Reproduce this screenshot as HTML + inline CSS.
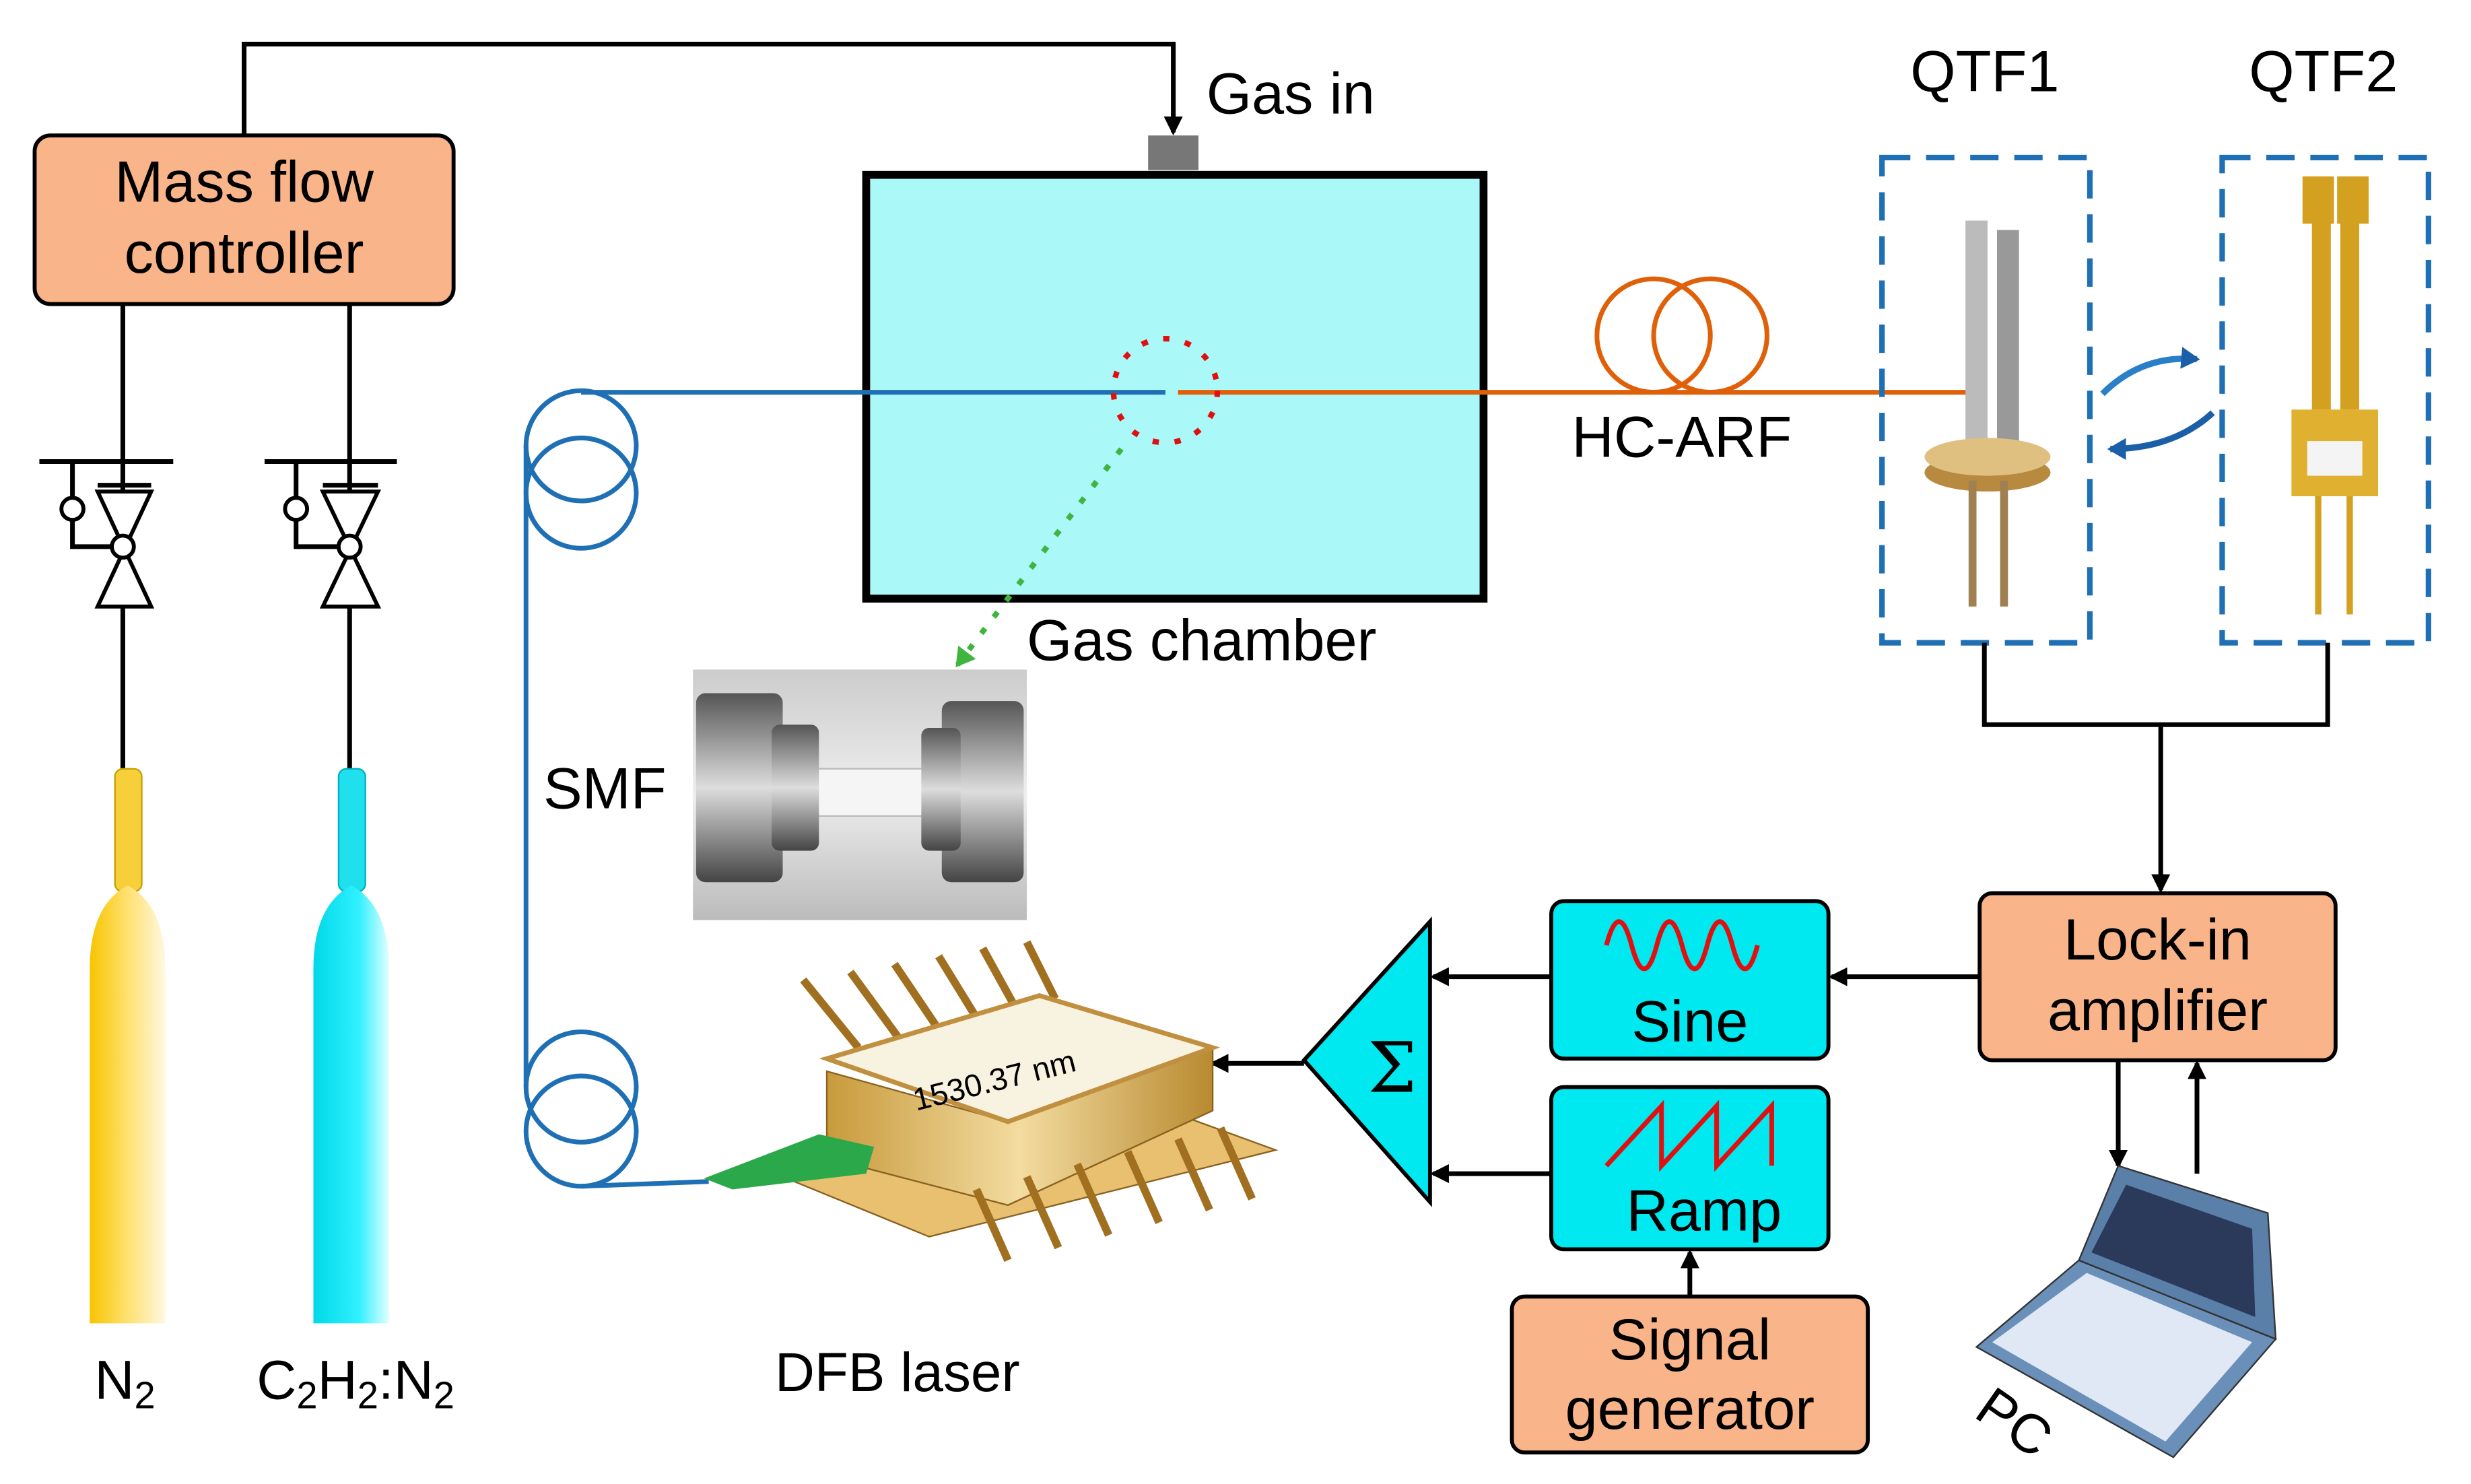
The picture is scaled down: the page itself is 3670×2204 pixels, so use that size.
<!DOCTYPE html>
<html><head><meta charset="utf-8"><style>
html,body{margin:0;padding:0;background:#fff}
svg{display:block}
text{font-family:"Liberation Sans",Arial,sans-serif;fill:#000}
</style></head><body>
<svg width="3670" height="2204" viewBox="0 0 1569 942" preserveAspectRatio="none" xmlns="http://www.w3.org/2000/svg">
<defs>
<marker id="ah" markerWidth="12" markerHeight="12" refX="10" refY="6" orient="auto" markerUnits="userSpaceOnUse"><path d="M0,0 L12,6 L0,12 z" fill="#000"/></marker>
<marker id="ab" markerWidth="14" markerHeight="14" refX="10" refY="7" orient="auto" markerUnits="userSpaceOnUse"><path d="M0,0 L12,7 L0,14 z" fill="#1a5fa8"/></marker>
<marker id="ag" markerWidth="14" markerHeight="14" refX="10" refY="7" orient="auto" markerUnits="userSpaceOnUse"><path d="M0,0 L12,7 L0,14 z" fill="#3fb43f"/></marker>
<linearGradient id="gy" x1="0" x2="1"><stop offset="0" stop-color="#f7c400"/><stop offset="0.5" stop-color="#ffe070"/><stop offset="1" stop-color="#fff8e0"/></linearGradient>
<linearGradient id="gc" x1="0" x2="1"><stop offset="0" stop-color="#00d8e8"/><stop offset="0.6" stop-color="#30f0ff"/><stop offset="1" stop-color="#e0ffff"/></linearGradient>
<linearGradient id="gp" x1="0" x2="0" y1="0" y2="1"><stop offset="0" stop-color="#ccc"/><stop offset="0.5" stop-color="#eee"/><stop offset="1" stop-color="#bbb"/></linearGradient>
<linearGradient id="gm" x1="0" x2="0" y1="0" y2="1"><stop offset="0" stop-color="#555"/><stop offset="0.5" stop-color="#ddd"/><stop offset="1" stop-color="#444"/></linearGradient>
<linearGradient id="gold" x1="0" x2="1"><stop offset="0" stop-color="#c89a3c"/><stop offset="0.5" stop-color="#f3dca0"/><stop offset="1" stop-color="#b88a30"/></linearGradient>
</defs>

<polyline points="155,86 155,28 745,28 745,84" fill="none" stroke="#000" stroke-width="3" marker-end="url(#ah)"/>
<rect x="22" y="86" width="266" height="107" rx="10" fill="#f9b48a" stroke="#000" stroke-width="2.5"/>
<text x="155" y="128" font-size="37" text-anchor="middle">Mass flow</text>
<text x="155" y="173" font-size="37" text-anchor="middle">controller</text>
<rect x="729" y="86" width="32" height="22" fill="#777"/>
<text x="766" y="72" font-size="37">Gas in</text>

<rect x="550" y="111" width="392" height="269" fill="#aaf8f8" stroke="#000" stroke-width="5"/>
<text x="652" y="419" font-size="37">Gas chamber</text>

<g stroke="#000" stroke-width="3" fill="none">
<line x1="78" y1="193" x2="78" y2="488"/>
<line x1="222" y1="193" x2="222" y2="488"/>
<line x1="25" y1="293" x2="110" y2="293"/>
<line x1="168" y1="293" x2="252" y2="293"/>
<line x1="46" y1="293" x2="46" y2="316"/>
<line x1="188" y1="293" x2="188" y2="316"/>
<polyline points="46,330 46,347 78,347"/>
<polyline points="188,330 188,347 222,347"/>
<line x1="62" y1="308" x2="96" y2="308"/><line x1="205" y1="308" x2="240" y2="308"/>
</g>
<g stroke="#000" stroke-width="2.5" fill="#fff">
<circle cx="46" cy="323" r="7"/><circle cx="188" cy="323" r="7"/>
<path d="M62,312 L96,312 L62,385 L96,385 z"/>
<path d="M205,312 L240,312 L205,385 L240,385 z"/>
<circle cx="78" cy="347" r="7"/><circle cx="222" cy="347" r="7"/>
</g>

<rect x="73" y="488" width="17" height="78" rx="5" fill="#f7cf3a" stroke="#c9a000"/>
<path d="M57,840 L57,615 Q57,575 81,562 Q105,575 105,615 L105,840 z" fill="url(#gy)"/>
<rect x="215" y="488" width="17" height="78" rx="5" fill="#20e0ee" stroke="#00b0c0"/>
<path d="M199,840 L199,615 Q199,575 223,562 Q247,575 247,615 L247,840 z" fill="url(#gc)"/>
<text x="60" y="888" font-size="35">N<tspan font-size="24" dy="6">2</tspan></text>
<text x="163" y="888" font-size="35">C<tspan font-size="24" dy="6">2</tspan><tspan dy="-6">H</tspan><tspan font-size="24" dy="6">2</tspan><tspan dy="-6">:N</tspan><tspan font-size="24" dy="6">2</tspan></text>

<g stroke="#1f6fb5" stroke-width="3" fill="none">
<line x1="369" y1="249" x2="740" y2="249"/>
<circle cx="369" cy="283" r="35"/><circle cx="369" cy="313" r="35"/>
<line x1="334" y1="283" x2="334" y2="690"/>
<circle cx="369" cy="690" r="35"/><circle cx="369" cy="718" r="35"/>
<line x1="369" y1="753" x2="450" y2="750"/>
</g>
<text x="345" y="513" font-size="37">SMF</text>

<g stroke="#e0600a" stroke-width="3" fill="none">
<line x1="748" y1="249" x2="1258" y2="249"/>
<circle cx="1050" cy="213" r="36"/><circle cx="1086" cy="213" r="36"/>
</g>
<text x="998" y="290" font-size="37">HC-ARF</text>
<circle cx="740" cy="248" r="33" fill="none" stroke="#e01010" stroke-width="3.5" stroke-dasharray="4,10"/>
<line x1="712" y1="285" x2="608" y2="422" stroke="#3fb43f" stroke-width="3.5" stroke-dasharray="4,9" marker-end="url(#ag)"/>

<rect x="440" y="425" width="212" height="159" fill="url(#gp)"/>
<rect x="500" y="488" width="110" height="30" fill="#f5f5f5" stroke="#bbb"/>
<rect x="442" y="440" width="55" height="120" rx="6" fill="url(#gm)"/>
<rect x="490" y="460" width="30" height="80" rx="5" fill="url(#gm)"/>
<rect x="598" y="445" width="52" height="115" rx="6" fill="url(#gm)"/>
<rect x="585" y="462" width="25" height="78" rx="5" fill="url(#gm)"/>

<g fill="none" stroke="#1f6fb5" stroke-width="3.5" stroke-dasharray="18,10">
<rect x="1195" y="100" width="132" height="308"/>
<rect x="1411" y="100" width="131" height="308"/>
</g>
<text x="1213" y="58" font-size="37">QTF1</text>
<text x="1428" y="58" font-size="37">QTF2</text>
<rect x="1248" y="140" width="14" height="150" fill="#bbb"/>
<rect x="1268" y="146" width="14" height="144" fill="#999"/>
<ellipse cx="1262" cy="300" rx="40" ry="12" fill="#b88a40"/>
<ellipse cx="1262" cy="290" rx="40" ry="12" fill="#e0c080"/>
<rect x="1250" y="305" width="5" height="80" fill="#a08050"/><rect x="1270" y="305" width="5" height="80" fill="#a08050"/>
<rect x="1462" y="112" width="20" height="30" fill="#d4a020"/><rect x="1484" y="112" width="20" height="30" fill="#d4a020"/>
<rect x="1468" y="140" width="12" height="120" fill="#d4a020"/><rect x="1486" y="140" width="12" height="120" fill="#d4a020"/>
<rect x="1455" y="260" width="55" height="55" fill="#e0b030"/>
<rect x="1465" y="280" width="35" height="22" fill="#f4f4f4"/>
<rect x="1470" y="315" width="4" height="75" fill="#d4a020"/><rect x="1490" y="315" width="4" height="75" fill="#d4a020"/>
<path d="M1335,250 Q1360,225 1395,228" stroke="#2a80c8" stroke-width="4" fill="none" marker-end="url(#ab)"/>
<path d="M1405,262 Q1380,285 1340,285" stroke="#1a5fa8" stroke-width="4" fill="none" marker-end="url(#ab)"/>

<g stroke="#000" stroke-width="3" fill="none">
<polyline points="1260,408 1260,460 1478,460 1478,408"/>
<line x1="1372" y1="460" x2="1372" y2="565" marker-end="url(#ah)"/>
<line x1="1257" y1="620" x2="1163" y2="620" marker-end="url(#ah)"/>
<line x1="985" y1="620" x2="910" y2="620" marker-end="url(#ah)"/>
<line x1="985" y1="745" x2="910" y2="745" marker-end="url(#ah)"/>
<line x1="828" y1="675" x2="770" y2="675" marker-end="url(#ah)"/>
<line x1="1073" y1="823" x2="1073" y2="795" marker-end="url(#ah)"/>
<line x1="1345" y1="673" x2="1345" y2="740" marker-end="url(#ah)"/>
<line x1="1395" y1="745" x2="1395" y2="675" marker-end="url(#ah)"/>
</g>

<rect x="1257" y="567" width="226" height="106" rx="8" fill="#f9b48a" stroke="#000" stroke-width="2.5"/>
<text x="1370" y="609" font-size="37" text-anchor="middle">Lock-in</text>
<text x="1370" y="654" font-size="37" text-anchor="middle">amplifier</text>
<rect x="985" y="572" width="176" height="100" rx="8" fill="#00e8f0" stroke="#000" stroke-width="2.5"/>
<path d="M1020,600 q8,-30 16,0 t16,0 t16,0 t16,0 t16,0 t16,0" stroke="#e01010" stroke-width="3" fill="none"/>
<text x="1073" y="661" font-size="37" text-anchor="middle">Sine</text>
<rect x="985" y="690" width="176" height="103" rx="8" fill="#00e8f0" stroke="#000" stroke-width="2.5"/>
<polyline points="1020,740 1055,702 1055,740 1090,702 1090,740 1125,702 1125,740" stroke="#e01010" stroke-width="3" fill="none"/>
<text x="1082" y="781" font-size="37" text-anchor="middle">Ramp</text>
<rect x="960" y="823" width="226" height="99" rx="8" fill="#f9b48a" stroke="#000" stroke-width="2.5"/>
<text x="1073" y="863" font-size="37" text-anchor="middle">Signal</text>
<text x="1073" y="907" font-size="37" text-anchor="middle">generator</text>
<polygon points="828,673 908,585 908,763" fill="#00e8f0" stroke="#000" stroke-width="2.5"/>
<text x="884" y="693" font-size="44" text-anchor="middle" style="font-family:'DejaVu Serif',serif">&#931;</text>

<polygon points="475,738 590,785 810,730 700,690" fill="#e8c070" stroke="#8a6020"/>
<g stroke="#a07020" stroke-width="5">
<line x1="545" y1="665" x2="510" y2="622"/><line x1="570" y1="658" x2="540" y2="617"/><line x1="595" y1="652" x2="568" y2="612"/><line x1="620" y1="646" x2="596" y2="607"/><line x1="645" y1="640" x2="624" y2="602"/><line x1="670" y1="634" x2="652" y2="598"/>
</g>
<polygon points="525,680 525,735 640,765 770,705 770,665 640,712" fill="url(#gold)" stroke="#8a6020"/>
<polygon points="525,672 640,712 770,665 660,632" fill="#f8f2e0" stroke="#c09040" stroke-width="3"/>
<text x="575" y="690" font-size="20" transform="rotate(-14 640 670)">1530.37 nm</text>
<g stroke="#a07020" stroke-width="5">
<line x1="620" y1="755" x2="640" y2="800"/><line x1="652" y1="747" x2="672" y2="792"/><line x1="684" y1="739" x2="704" y2="784"/><line x1="716" y1="731" x2="736" y2="776"/><line x1="748" y1="723" x2="768" y2="768"/><line x1="775" y1="716" x2="795" y2="761"/>
</g>
<polygon points="447,748 520,720 555,728 550,745 465,755" fill="#2aa84a"/>
<text x="492" y="883" font-size="35">DFB laser</text>

<polygon points="1255,855 1380,925 1445,850 1320,800" fill="#6a8fb8" stroke="#333"/>
<polygon points="1265,852 1375,915 1430,852 1325,808" fill="#dfe8f4"/>
<polygon points="1320,800 1445,850 1440,770 1345,740" fill="#5a7fa8" stroke="#333"/>
<polygon points="1328,795 1432,836 1430,780 1350,752" fill="#2b3a5a"/>
<text x="1252" y="910" font-size="35" transform="rotate(35 1270 905)">PC</text>
</svg>
</body></html>
